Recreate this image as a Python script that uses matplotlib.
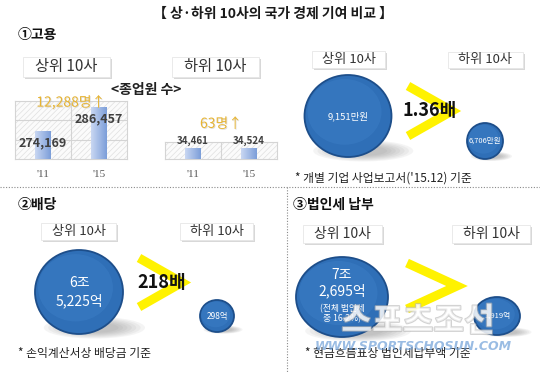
import matplotlib.pyplot as plt
import numpy as np
from matplotlib.patches import Ellipse, Rectangle
from matplotlib.colors import LinearSegmentedColormap
import matplotlib.patheffects as pe

plt.rcParams['font.family'] = ['Noto Sans CJK KR', 'DejaVu Sans']
plt.rcParams['hatch.linewidth'] = 0.5

W, H = 540, 377

# data
years = ["'11", "'15"]
top_staff = [274169, 286457]
bottom_staff = [34461, 34524]

salary = ['9,151만원', '6,706만원']
dividend = ['6조\n5,225억', '298억']
tax = ['7조\n2,695억', '1,919억']
tax_note = '(전체 법인세\n중 16.2%)'
ratios = ['1.36배', '218배']
notes = ["* 개별 기업 사업보고서('15.12) 기준",
         '* 손익계산서상 배당금 기준',
         '* 현금흐름표상 법인세납부액 기준']

fig = plt.figure(figsize=(5.4, 3.77), dpi=100)
ax = fig.add_axes([0, 0, 1, 1])
ax.set_xlim(0, W)
ax.set_ylim(H, 0)
ax.axis('off')

bar_cmap = LinearSegmentedColormap.from_list('barblue', ['#C9D7F2', '#7C9ED9'])


def px_axes(x0, y0, x1, y1):
    return fig.add_axes([x0 / W, 1 - y1 / H, (x1 - x0) / W, (y1 - y0) / H])


def staff_chart(box, vals, ylim, grid, lab_size, lab_off, inc_off):
    b = px_axes(*box)
    b.add_patch(Rectangle((0, 0), 1, 1, transform=b.transAxes, fc='#fbfbfb',
                          ec='#e0e0e0', hatch='//////', lw=0, zorder=0))
    for g in grid:
        b.axhline(g, color='#d4d4d4', lw=0.8, zorder=1)
    b.axvline(0.5, color='#d4d4d4', lw=0.8, zorder=1)
    bars = b.bar(range(len(vals)), vals, width=0.27, color='#8FAEE0', lw=0, zorder=2)
    grad = np.linspace(0, 1, 50).reshape(1, -1)
    for r in bars:
        x = r.get_x()
        y0 = max(r.get_y(), ylim[0])
        b.imshow(grad, cmap=bar_cmap, extent=(x, x + r.get_width(), y0, r.get_height()),
                 aspect='auto', zorder=3)
    b.set_xlim(-0.5, 1.5)
    b.set_ylim(*ylim)
    for i, v in enumerate(vals):
        b.annotate(f'{v:,}', (i, v), xytext=(0, lab_off), textcoords='offset points',
                   ha='center', va='center', fontsize=lab_size, fontweight='bold',
                   color='#404040', zorder=5, annotation_clip=False)
    b.annotate(f'{vals[1] - vals[0]:,}명↑', (0.5, max(vals)), xytext=(0, inc_off),
               textcoords='offset points', ha='center', va='center', fontsize=10,
               color='#E7B432', zorder=5, annotation_clip=False,
               path_effects=[pe.withSimplePatchShadow(offset=(0.6, -0.6), shadow_rgbFace='#c9c9c9', alpha=0.6)])
    for s in b.spines.values():
        s.set_color('#d4d4d4')
    b.set_yticks([])
    b.set_xticks(range(len(vals)), years, fontsize=8, color='#555555', family='Liberation Serif')
    b.tick_params(axis='x', length=0, pad=8)


def tag(x0, y0, x1, y1, text, size):
    ax.add_patch(Rectangle((x0 + 2, y0 + 2), x1 - x0, y1 - y0, fc='#c8c8c8', ec='none', alpha=0.7))
    ax.add_patch(Rectangle((x0, y0), x1 - x0, y1 - y0, fc='white', ec='#e6e6e6', lw=0.6))
    ax.text((x0 + x1) / 2, (y0 + y1) / 2, text, ha='center', va='center', fontsize=size, color='#333333')


def bubble(cx, cy, rx, ry, label, size):
    for k in range(7):
        s = 1.15 - k * 0.1
        ax.add_patch(Ellipse((cx + rx * 0.35, cy + ry * 0.85), 2 * rx * s, ry * 0.45 * s,
                             fc='#6f6f6f', alpha=0.07, lw=0))
    ax.add_patch(Ellipse((cx, cy), 2 * rx, 2 * ry, fc='#2F6FB7', ec='#1D4E8A', lw=1.3))
    ax.add_patch(Ellipse((cx - rx * 0.08, cy - ry * 0.1), 1.7 * rx, 1.6 * ry, fc='#3A7CC4', lw=0, alpha=0.6))
    if label:
        ax.text(cx, cy, label, color='white', fontsize=size, ha='center', va='center', linespacing=1.25)


def chevron(x0, x1, y0, y1):
    ym = (y0 + y1) / 2
    ax.plot([x0, x1, x0], [y0, ym, y1], color='#FFF200', lw=6.5,
            solid_joinstyle='miter', solid_capstyle='butt')


# title and separators
ax.text(273, 14, '【 상·하위 10사의 국가 경제 기여 비교 】', ha='center', va='center',
        fontsize=10, fontweight='bold', color='#1a1a1a')
ax.plot([0, W], [187, 187], color='#8a8a8a', lw=0.8, ls=(0, (1, 1.5)))
ax.plot([287, 287], [187, 372], color='#8a8a8a', lw=0.8, ls=(0, (1, 1.5)))

# 1. employment
ax.text(18, 35, '①고용', ha='left', va='center', fontsize=10, fontweight='bold', color='#111111')
tag(23, 57, 110, 77, '상위 10사', 11)
tag(172, 57, 259, 77, '하위 10사', 11)
ax.text(146, 90, '<종업원 수>', ha='center', va='center', fontsize=10, fontweight='bold', color='#222222')
staff_chart((15, 101, 127, 159), top_staff, (260000, 290000), [270000, 280000], 9, -8, 4)
staff_chart((165, 142, 277, 159), bottom_staff, (0, 58000), [], 7, 6, 18)

tag(312, 51, 385, 68, '상위 10사', 9.5)
tag(448, 52, 523, 68, '하위 10사', 9.5)
bubble(348, 116, 43.5, 41, salary[0], 6.8)
bubble(485, 141, 18, 18, salary[1], 5.4)
chevron(408, 452, 86, 136)
ax.text(430, 110, ratios[0], ha='center', va='center', fontsize=13, fontweight='bold', color='#111111')
ax.text(295, 178, notes[0], ha='left', va='center', fontsize=8.5, color='#222222')

# 2. dividend
ax.text(18, 205, '②배당', ha='left', va='center', fontsize=10, fontweight='bold', color='#111111')
tag(41, 223, 116, 240, '상위 10사', 9.5)
tag(180, 223, 253, 240, '하위 10사', 9.5)
bubble(79, 292, 44, 42, dividend[0], 10)
bubble(217, 316, 17, 16, dividend[1], 6)
chevron(139, 182, 258, 307)
ax.text(162, 282, ratios[1], ha='center', va='center', fontsize=13, fontweight='bold', color='#111111')
ax.text(18, 353, notes[1], ha='left', va='center', fontsize=8.5, color='#222222')

# 3. corporate tax
ax.text(293, 205, '③법인세 납부', ha='left', va='center', fontsize=10, fontweight='bold', color='#111111')
tag(303, 225, 382, 243, '상위 10사', 10)
tag(452, 225, 530, 243, '하위 10사', 10)
bubble(342, 297, 46, 40, '', 10)
ax.text(342, 283, tax[0], color='white', fontsize=10, ha='center', va='center', linespacing=1.15)
ax.text(342, 314, tax_note, color='white', fontsize=6.3, ha='center', va='center', linespacing=1.1)
bubble(497, 316, 23, 19, tax[1], 5.5)
chevron(407, 457, 263, 309)
ax.text(305, 353, notes[2], ha='left', va='center', fontsize=8.5, color='#222222')

# watermark
ax.text(418, 322, '스포츠조선', ha='center', va='center', fontsize=24, fontweight='bold',
        color='white', alpha=0.6,
        path_effects=[pe.withStroke(linewidth=1.5, foreground='#b5b5b5')])
ax.text(413, 347, 'WWW.SPORTSCHOSUN.COM', ha='center', va='center', fontsize=9,
        fontweight='bold', style='italic', color='#6FA0D8', alpha=0.7, family='DejaVu Sans')

fig.savefig('out.png', dpi=100)
